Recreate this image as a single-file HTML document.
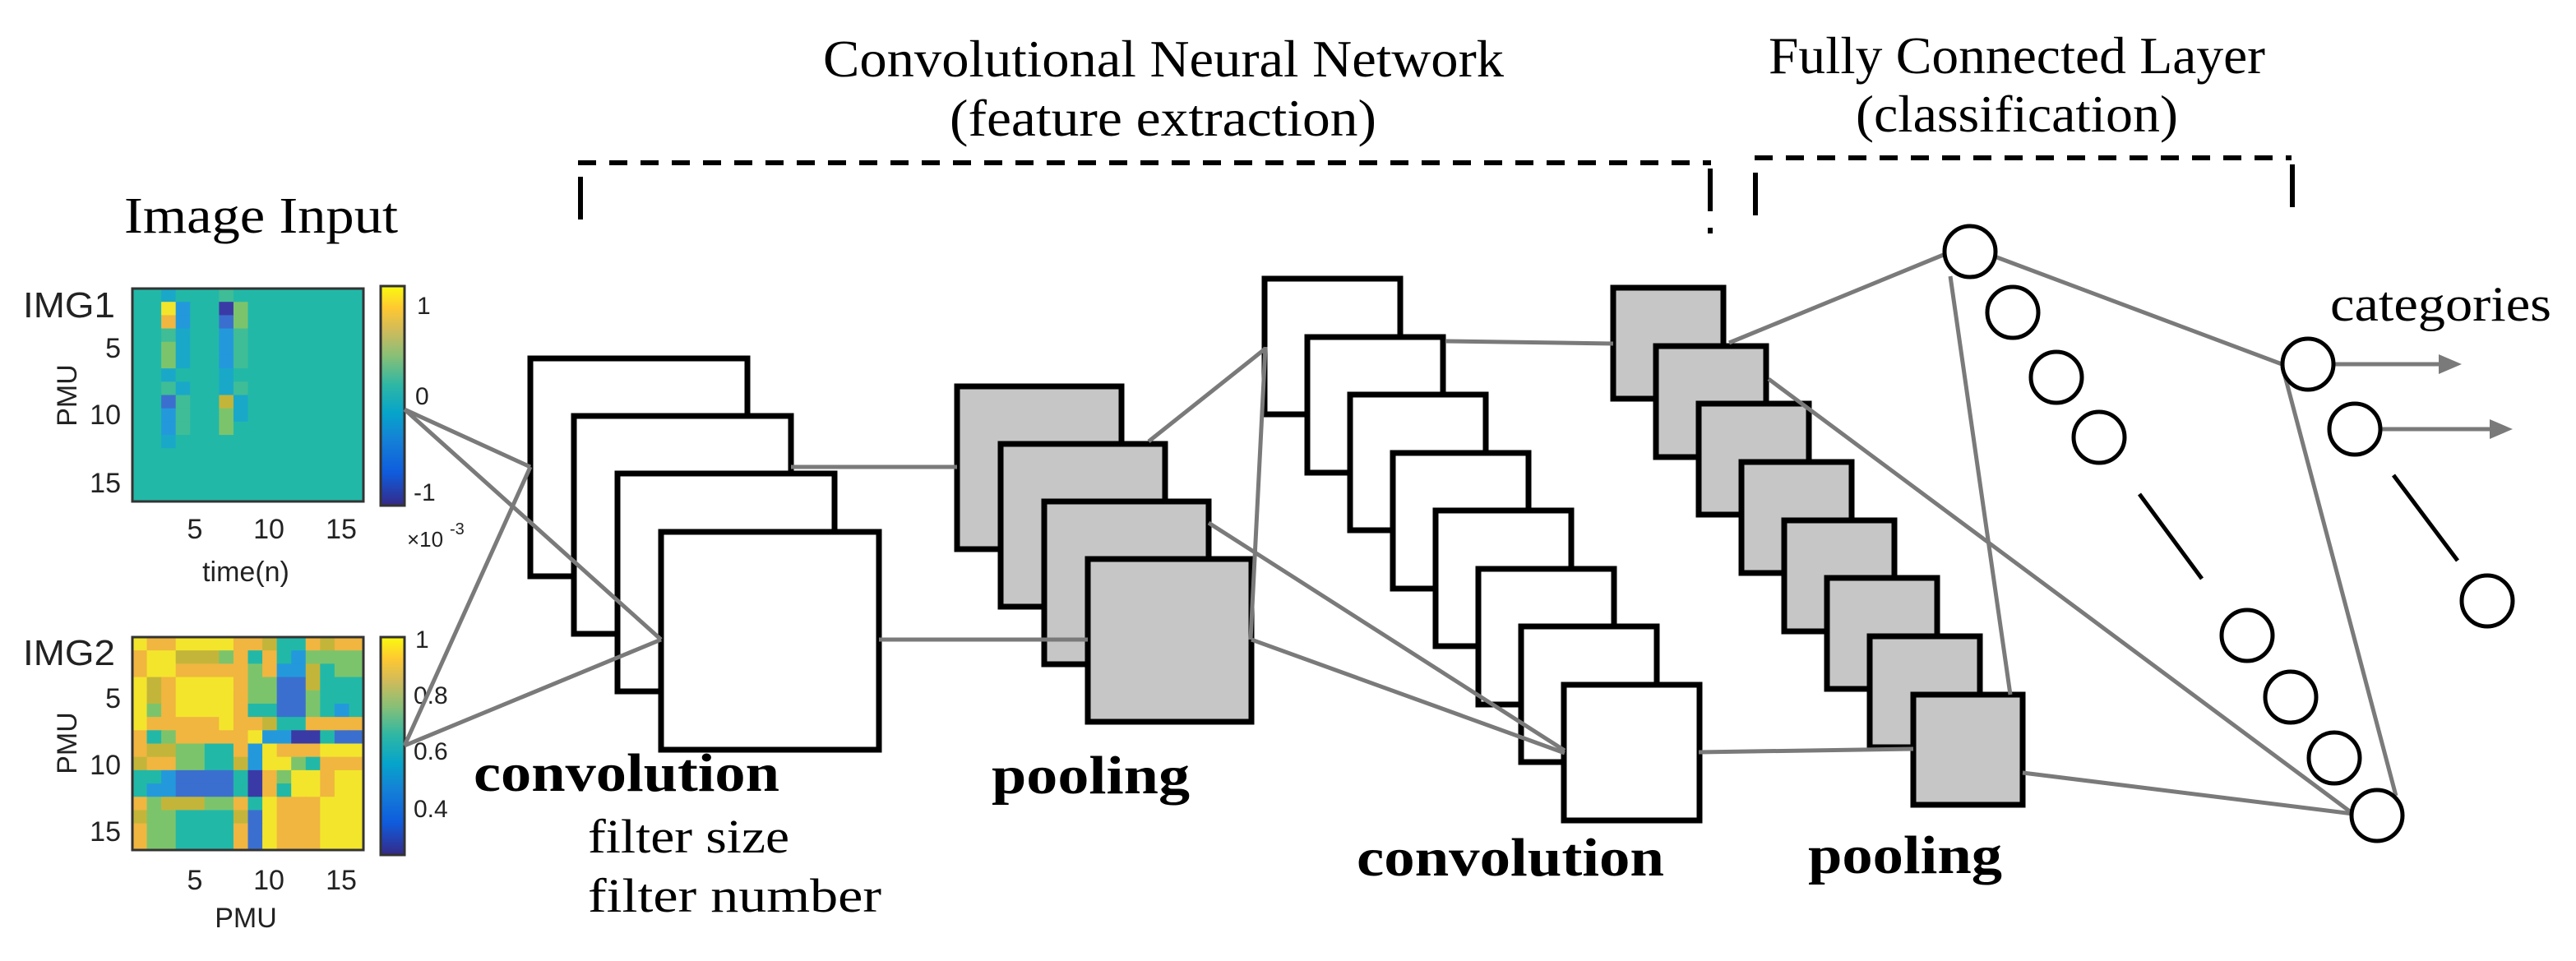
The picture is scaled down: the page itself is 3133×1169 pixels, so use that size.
<!DOCTYPE html>
<html><head><meta charset="utf-8"><style>
html,body{margin:0;padding:0;background:#fff;}
svg{display:block;}
.s{font-family:"Liberation Serif",serif;fill:#000;}
.a{font-family:"Liberation Sans",sans-serif;fill:#222;}
.ln{stroke:#7a7a7a;stroke-width:5;fill:none;}
.bx{stroke:#000;stroke-width:7;fill:#fff;}
.gb{stroke:#000;stroke-width:7;fill:#c6c6c6;}
.c{stroke:#000;stroke-width:5;fill:#fff;}
</style></head><body>
<svg id="sv" width="3133" height="1169" viewBox="0 0 3133 1169" xmlns="http://www.w3.org/2000/svg">
<defs>
<linearGradient id="par" x1="0" y1="1" x2="0" y2="0">
<stop offset="0" stop-color="#352a87"/><stop offset="0.15" stop-color="#0f5cdd"/><stop offset="0.3" stop-color="#1481d6"/><stop offset="0.42" stop-color="#06a4ca"/><stop offset="0.55" stop-color="#2eb7a4"/><stop offset="0.68" stop-color="#87bf77"/><stop offset="0.8" stop-color="#d1bb59"/><stop offset="0.9" stop-color="#fec832"/><stop offset="1" stop-color="#f9fb0e"/>
</linearGradient>
</defs>

<!-- titles -->
<text class="s" x="1001" y="93" font-size="64" textLength="828" lengthAdjust="spacingAndGlyphs">Convolutional Neural Network</text>
<text class="s" x="1155" y="165" font-size="64" textLength="519" lengthAdjust="spacingAndGlyphs">(feature extraction)</text>
<text class="s" x="2151" y="89" font-size="64" textLength="604" lengthAdjust="spacingAndGlyphs">Fully Connected Layer</text>
<text class="s" x="2257" y="160" font-size="64" textLength="392" lengthAdjust="spacingAndGlyphs">(classification)</text>
<text class="s" x="151" y="283" font-size="62" textLength="333" lengthAdjust="spacingAndGlyphs">Image Input</text>

<!-- dashed brackets -->
<g stroke="#000" stroke-width="6" fill="none">
<line x1="703" y1="198" x2="2081" y2="198" stroke-dasharray="22 16"/>
<line x1="706" y1="215" x2="706" y2="284" stroke-dasharray="52 20"/>
<line x1="2080" y1="205" x2="2080" y2="284" stroke-dasharray="52 20"/>
<line x1="2134" y1="192" x2="2787" y2="192" stroke-dasharray="22 16"/>
<line x1="2135" y1="210" x2="2135" y2="282" stroke-dasharray="52 20"/>
<line x1="2788" y1="200" x2="2788" y2="268" stroke-dasharray="52 20"/>
</g>

<!-- heatmaps -->
<g id="hm1"></g>
<g id="hm2"></g>
<rect x="161" y="351" width="281" height="259" fill="none" stroke="#333" stroke-width="3"/>
<rect x="161" y="775" width="281" height="259" fill="none" stroke="#333" stroke-width="3"/>
<rect x="463" y="348" width="29" height="267" fill="url(#par)" stroke="#333" stroke-width="3"/>
<rect x="463" y="775" width="29" height="265" fill="url(#par)" stroke="#333" stroke-width="3"/>

<text class="a" x="28" y="386" font-size="44" textLength="112" lengthAdjust="spacingAndGlyphs">IMG1</text>
<text class="a" x="28" y="809" font-size="44" textLength="112" lengthAdjust="spacingAndGlyphs">IMG2</text>
<g class="a" font-size="34" text-anchor="end">
<text x="147" y="435">5</text><text x="147" y="516">10</text><text x="147" y="599">15</text>
<text x="147" y="861">5</text><text x="147" y="942">10</text><text x="147" y="1023">15</text>
</g>
<g class="a" font-size="34" text-anchor="middle">
<text x="237" y="655">5</text><text x="327" y="655">10</text><text x="415" y="655">15</text>
<text x="237" y="1082">5</text><text x="327" y="1082">10</text><text x="415" y="1082">15</text>
<text x="299" y="707">time(n)</text>
<text x="299" y="1128">PMU</text>
</g>
<text class="a" font-size="34" text-anchor="middle" transform="translate(93,481) rotate(-90)">PMU</text>
<text class="a" font-size="34" text-anchor="middle" transform="translate(93,904) rotate(-90)">PMU</text>
<g class="a" font-size="30">
<text x="507" y="382">1</text><text x="505" y="492">0</text><text x="503" y="609">-1</text>
<text x="495" y="665" font-size="26">×10</text><text x="547" y="650" font-size="20">-3</text>
<text x="505" y="788">1</text><text x="503" y="856">0.8</text><text x="503" y="924">0.6</text><text x="503" y="994">0.4</text>
</g>

<!-- conv1 boxes -->
<rect class="bx" x="645" y="436" width="264" height="265"/>
<rect class="bx" x="698" y="506" width="264" height="265"/>
<rect class="bx" x="751" y="576" width="264" height="265"/>
<rect class="bx" x="804" y="647" width="265" height="265"/>

<!-- pool1 boxes -->
<rect class="gb" x="1164" y="470" width="200" height="198"/>
<rect class="gb" x="1217" y="540" width="200" height="198"/>
<rect class="gb" x="1270" y="610" width="200" height="198"/>
<rect class="gb" x="1323" y="680" width="199" height="198"/>

<!-- conv2 boxes -->
<rect class="bx" x="1538" y="339" width="165" height="165"/>
<rect class="bx" x="1590" y="410" width="165" height="165"/>
<rect class="bx" x="1642" y="480" width="165" height="165"/>
<rect class="bx" x="1694" y="551" width="165" height="165"/>
<rect class="bx" x="1746" y="621" width="165" height="165"/>
<rect class="bx" x="1798" y="692" width="165" height="165"/>
<rect class="bx" x="1850" y="762" width="165" height="165"/>
<rect class="bx" x="1902" y="833" width="165" height="165"/>

<!-- pool2 boxes -->
<rect class="gb" x="1962" y="350" width="134" height="135"/>
<rect class="gb" x="2014" y="421" width="134" height="135"/>
<rect class="gb" x="2066" y="491" width="134" height="135"/>
<rect class="gb" x="2118" y="562" width="134" height="135"/>
<rect class="gb" x="2170" y="633" width="134" height="135"/>
<rect class="gb" x="2222" y="703" width="134" height="135"/>
<rect class="gb" x="2274" y="774" width="134" height="135"/>
<rect class="gb" x="2327" y="845" width="133" height="134"/>

<!-- connectors -->
<g class="ln">
<line x1="492" y1="498" x2="645" y2="568"/>
<line x1="492" y1="498" x2="804" y2="778"/>
<line x1="492" y1="907" x2="645" y2="568"/>
<line x1="492" y1="907" x2="804" y2="778"/>
<line x1="962" y1="568" x2="1164" y2="568"/>
<line x1="1069" y1="778" x2="1323" y2="778"/>
<line x1="1397" y1="537" x2="1539" y2="424"/>
<line x1="1521" y1="778" x2="1539" y2="422"/>
<line x1="1470" y1="636" x2="1903" y2="913"/>
<line x1="1522" y1="778" x2="1903" y2="916"/>
<line x1="1758" y1="415" x2="1962" y2="418"/>
<line x1="2066" y1="915" x2="2327" y2="911"/>
<line x1="2103" y1="417" x2="2366" y2="309"/>
<line x1="2151" y1="461" x2="2862" y2="990"/>
<line x1="2460" y1="940" x2="2862" y2="990"/>
<line x1="2372" y1="336" x2="2445" y2="845"/>
<line x1="2426" y1="312" x2="2778" y2="444"/>
<line x1="2776" y1="446" x2="2914" y2="968"/>
<line x1="2837" y1="443" x2="2970" y2="443"/>
<line x1="2894" y1="522" x2="3032" y2="522"/>
</g>
<polygon points="2966,431 2994,443 2966,455" fill="#7a7a7a"/>
<polygon points="3028,510 3056,522 3028,534" fill="#7a7a7a"/>

<!-- FC nodes -->
<circle class="c" cx="2396" cy="306" r="31"/>
<circle class="c" cx="2448" cy="380" r="31"/>
<circle class="c" cx="2501" cy="459" r="31"/>
<circle class="c" cx="2553" cy="532" r="31"/>
<circle class="c" cx="2733" cy="773" r="31"/>
<circle class="c" cx="2786" cy="848" r="31"/>
<circle class="c" cx="2839" cy="922" r="31"/>
<circle class="c" cx="2891" cy="992" r="31"/>
<circle class="c" cx="2807" cy="443" r="31"/>
<circle class="c" cx="2864" cy="522" r="31"/>
<circle class="c" cx="3025" cy="731" r="31"/>
<line x1="2602" y1="601" x2="2678" y2="704" stroke="#000" stroke-width="5"/>
<line x1="2911" y1="578" x2="2989" y2="682" stroke="#000" stroke-width="5"/>
<text class="s" x="2834" y="390" font-size="60" textLength="269" lengthAdjust="spacingAndGlyphs">categories</text>

<!-- layer labels -->
<text class="s" x="576" y="962" font-size="66" font-weight="bold" textLength="372" lengthAdjust="spacingAndGlyphs">convolution</text>
<text class="s" x="715" y="1037" font-size="58" textLength="245" lengthAdjust="spacingAndGlyphs">filter size</text>
<text class="s" x="715" y="1109" font-size="58" textLength="357" lengthAdjust="spacingAndGlyphs">filter number</text>
<text class="s" x="1206" y="965" font-size="66" font-weight="bold" textLength="241" lengthAdjust="spacingAndGlyphs">pooling</text>
<text class="s" x="1650" y="1065" font-size="66" font-weight="bold" textLength="374" lengthAdjust="spacingAndGlyphs">convolution</text>
<text class="s" x="2199" y="1062" font-size="66" font-weight="bold" textLength="236" lengthAdjust="spacingAndGlyphs">pooling</text>
</svg>
<script>
(function(){
var P={Y:"#f3e52c",O:"#f0b640",G:"#c3b53a",L:"#7cc46c",g:"#3fbd96",T:"#22b8a8",b:"#1aa8c8",B:"#2399dc",D:"#3b6fcf",N:"#3a3aa6"};
var h1=[
"TTbTTTgTTTTTTTTT",
"TTYBTTNLTTTTTTTT",
"TTOBTTDLTTTTTTTT",
"TTgbTTBgTTTTTTTT",
"TTLbTTBgTTTTTTTT",
"TTLbTTBgTTTTTTTT",
"TTbTTTbTTTTTTTTT",
"TTgbTTbgTTTTTTTT",
"TTDgTTGbTTTTTTTT",
"TTBgTTLbTTTTTTTT",
"TTBgTTLTTTTTTTTT",
"TTbTTTTTTTTTTTTT",
"TTTTTTTTTTTTTTTT",
"TTTTTTTTTTTTTTTT",
"TTTTTTTTTTTTTTTT",
"TTTTTTTTTTTTTTTT"];
var h2=[
"YOOYYYYOOGTTOGOO",
"OYYGGGLOTOTBLLLL",
"OYYOOOOOLOBBGTLL",
"YGOYYYYOLLDDGTTT",
"YGOYYYYOLLDDLTTT",
"YLOYYYYOTTDDLTBT",
"YOOOOOYOOGTTOOOO",
"OTLOOOOOYBBNNTDD",
"OGGLLTTOBYOOOYYY",
"GOOLLTTGBYYLTOOO",
"TTBDDDDTNOLYYOYY",
"TBBDDDDTNOTYYOYY",
"OLGGGLLOTYOOOYYY",
"GLLTTTTGDYOOOYYY",
"OLLTTTTODYOOOYYY",
"OLLTTTTODYOOOYYY"];
var ns="http://www.w3.org/2000/svg";
function draw(id,m,x0,y0,w,h){var g=document.getElementById(id);var cw=w/16,ch=h/16;
for(var r=0;r<16;r++)for(var c=0;c<16;c++){var e=document.createElementNS(ns,"rect");
e.setAttribute("x",x0+c*cw);e.setAttribute("y",y0+r*ch);e.setAttribute("width",cw+0.6);e.setAttribute("height",ch+0.6);
e.setAttribute("fill",P[m[r][c]]);g.appendChild(e);}}
draw("hm1",h1,161,351,281,259);
draw("hm2",h2,161,775,281,259);
})();
</script>
</body></html>
